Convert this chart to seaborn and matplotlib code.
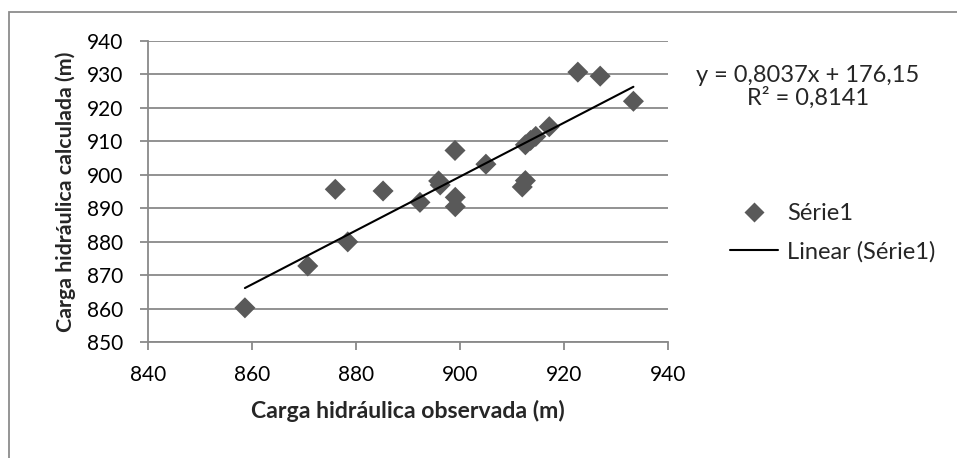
import matplotlib
matplotlib.use("Agg")
import matplotlib.pyplot as plt
import seaborn as sns
import pandas as pd
from matplotlib.lines import Line2D
from matplotlib.patches import Rectangle

# Observed vs. calculated hydraulic head (m)
observed = [858.6, 870.7, 876.0, 878.4, 885.2, 892.3, 895.9, 896.2, 899.05, 899.1, 899.1,
            905.0, 912.0, 912.6, 912.6, 913.6, 914.6, 917.2, 922.7, 927.0, 933.4]
calculated = [860.3, 872.8, 895.7, 880.0, 895.2, 891.8, 898.2, 897.0, 907.3, 893.3, 890.5,
              903.2, 896.4, 898.3, 909.0, 910.3, 911.5, 914.4, 930.7, 929.5, 922.0]

# Linear trend line coefficients
slope = 0.8037
intercept = 176.15
r_squared = 0.8141

x_ticks = [840, 860, 880, 900, 920, 940]
y_ticks = [850, 860, 870, 880, 890, 900, 910, 920, 930, 940]

series_label = "Série1"
trend_label = "Linear (Série1)"
x_title = "Carga hidráulica observada (m)"
y_title = "Carga hidráulica calculada (m)"

sns.set_theme(style="white")
plt.rcParams["font.family"] = ["Lato", "DejaVu Sans"]

W, H = 957, 458
fig = plt.figure(figsize=(W / 100, H / 100), dpi=100)
ax = fig.add_axes([148.3 / W, 1 - 342.3 / H, (667.7 - 148.3) / W, (342.3 - 41) / H])

grid_c = "#898989"
point_c = "#595959"

df = pd.DataFrame({"obs": observed, "calc": calculated})
sns.scatterplot(data=df, x="obs", y="calc", marker="D", s=115, color=point_c,
                edgecolor="none", ax=ax, zorder=3, legend=False)

x0, x1 = min(observed), max(observed)
trend = pd.DataFrame({"x": [x0, x1], "y": [slope * x0 + intercept, slope * x1 + intercept]})
sns.lineplot(data=trend, x="x", y="y", color="black", linewidth=1.5, ax=ax, zorder=4)

ax.set_xlim(840, 940)
ax.set_ylim(850, 940)
ax.set_xticks(x_ticks)
ax.set_yticks(y_ticks)
ax.yaxis.grid(True, color=grid_c, linewidth=1.3)
ax.xaxis.grid(False)
ax.set_axisbelow(True)
for side in ("top", "right"):
    ax.spines[side].set_visible(False)
for side in ("left", "bottom"):
    ax.spines[side].set_color(grid_c)
    ax.spines[side].set_linewidth(1.3)
ax.tick_params(axis="both", which="major", direction="out", length=6, width=1.3,
               color=grid_c, labelsize=15, labelcolor="black")
ax.tick_params(axis="x", pad=10, bottom=True)
ax.tick_params(axis="y", pad=12, left=True)

ax.set_xlabel(x_title, fontsize=16.6, fontweight="bold", labelpad=11)
ax.set_ylabel(y_title, fontsize=15.4, fontweight="bold", labelpad=8)

eq = f"y = {slope:.4f}x + {intercept:.2f}".replace(".", ",")
r2 = f"R² = {r_squared:.4f}".replace(".", ",")
fig.text(808 / W, 1 - 75 / H, eq, ha="center", va="center", fontsize=17)
fig.text(808 / W, 1 - 98 / H, r2, ha="center", va="center", fontsize=17)

handles = [
    Line2D([], [], linestyle="none", marker="D", markersize=10, color=point_c, markeredgecolor="none"),
    Line2D([], [], color="black", linewidth=1.5),
]
ax.legend(handles, [series_label, trend_label], loc="center left",
          bbox_to_anchor=(730 / W, 1 - 233 / H), bbox_transform=fig.transFigure,
          frameon=False, fontsize=17, handlelength=2.05, handletextpad=0.38,
          labelspacing=0.72, borderaxespad=0, borderpad=0)

# chart area outline
fig.patches.append(Rectangle((9 / W, -0.1), 1.2, 1 - 12 / H + 0.1, transform=fig.transFigure,
                             fill=False, edgecolor="#8c8c8c", linewidth=1.3))

fig.savefig("out.png", dpi=100)
